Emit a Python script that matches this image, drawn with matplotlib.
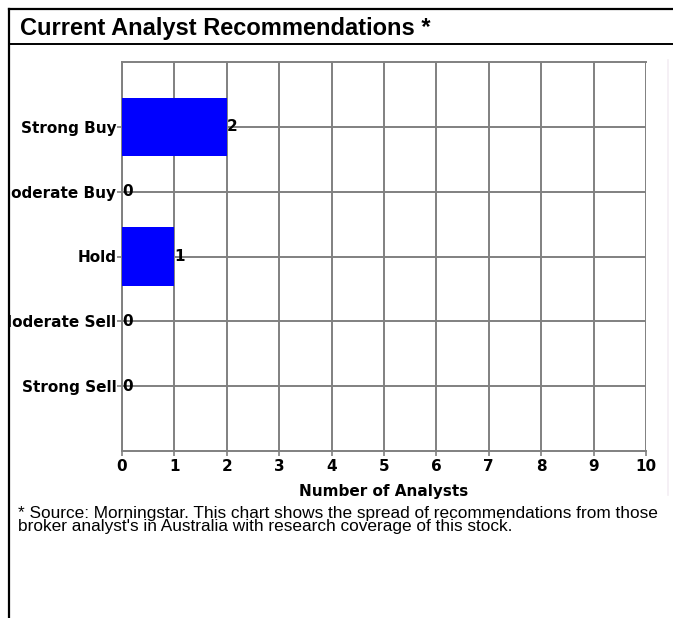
import matplotlib
matplotlib.use("Agg")
import matplotlib.pyplot as plt
from matplotlib.lines import Line2D
from matplotlib.transforms import Bbox, TransformedBbox

categories = ["Strong Buy", "Moderate Buy", "Hold", "Moderate Sell", "Strong Sell"]
counts = [2, 0, 1, 0, 0]
x_ticks = list(range(0, 11))

W, H = 673, 618
fig = plt.figure(figsize=(W / 100, H / 100), dpi=100)
fig.patch.set_facecolor("white")

# axes placed in pixel coordinates
left, right, top, bottom = 122, 646, 62, 451
ax = fig.add_axes([left / W, 1 - bottom / H, (right - left) / W, (bottom - top) / H])

pos = list(range(len(categories)))
ax.barh(pos, counts, height=0.9, color="#0000ff", zorder=3)
for p, c in zip(pos, counts):
    ax.text(c, p, str(c), va="center", ha="left", fontsize=11,
            fontweight="bold", family="DejaVu Sans", zorder=4)

ax.set_xlim(0, 10)
ax.set_ylim(5, -1)
ax.set_xticks(x_ticks)
ax.set_yticks(pos)
ax.set_yticklabels(categories)
ax.grid(True, color="#808080", linewidth=1.4, zorder=1)
ax.set_axisbelow(True)
for s in ["left", "top", "bottom", "right"]:
    ax.spines[s].set_color("#808080")
    ax.spines[s].set_linewidth(1.4)
ax.spines["right"].set_visible(False)
ax.tick_params(colors="#808080", length=3.5, width=1.2, labelcolor="black",
               labelsize=11, pad=0.5)
ax.tick_params(axis="x", pad=2.5)
for lab in ax.get_xticklabels() + ax.get_yticklabels():
    lab.set_fontweight("bold")
ax.set_xlabel("Number of Analysts", fontsize=11, fontweight="bold", labelpad=7)

# the long category labels are cut by the outer border, as in the original
clip = TransformedBbox(Bbox([[9.5 / W, 0], [1, 1]]), fig.transFigure)
for lab in ax.get_yticklabels():
    lab.set_clip_box(clip)
    lab.set_clip_on(True)

# outer frame and title band
def px_line(x0, y0, x1, y1, **kw):
    fig.add_artist(Line2D([x0 / W, x1 / W], [1 - y0 / H, 1 - y1 / H],
                          transform=fig.transFigure, **kw))

px_line(8.5, 8.5, W, 8.5, color="black", linewidth=1.6)
px_line(8.5, 8.5, 8.5, H, color="black", linewidth=1.6)
px_line(8.5, 44, W, 44, color="black", linewidth=1.4)
px_line(668, 60, 668, 495, color="#f3eef3", linewidth=1.2)

fig.text(20 / W, 1 - 28 / H, "Current Analyst Recommendations *", fontsize=17,
         fontweight="bold", family="Liberation Sans", va="center", ha="left")

fig.text(18 / W, 1 - 506 / H,
         "* Source: Morningstar. This chart shows the spread of recommendations from those\n"
         "broker analyst's in Australia with research coverage of this stock.",
         fontsize=12.4, family="Liberation Sans", va="top", ha="left",
         linespacing=0.8)

fig.savefig("out.png", dpi=100)
